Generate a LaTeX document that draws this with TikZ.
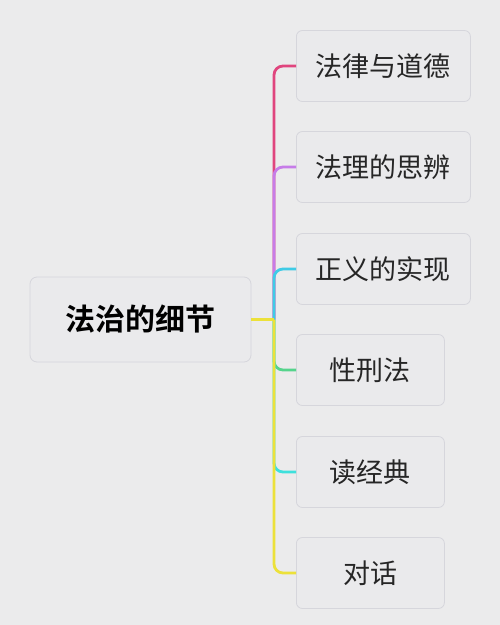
\documentclass[tikz,border=0pt]{standalone}
\usepackage{fontspec}
\newfontfamily\cjk{Noto Sans CJK SC}
\newfontfamily\cjkb{Noto Sans CJK SC Bold}
\begin{document}
\begin{tikzpicture}[x=1pt,y=-1pt,
  box/.style={draw=boxline,fill=boxfill,line width=0.8pt,rounded corners=6pt,
    minimum height=71pt,anchor=west,inner sep=0pt,font=\cjk\fontsize{27}{32}\selectfont,text=black!85},
  wide/.style={box,minimum width=174pt},
  narrow/.style={box,minimum width=148pt},
  branch/.style={line width=2.8pt,rounded corners=9pt}]
\definecolor{bg}{HTML}{EBEBEC}
\definecolor{boxline}{HTML}{D6D6DC}
\definecolor{boxfill}{HTML}{EAEAEC}
\definecolor{cpink}{HTML}{E0457E}
\definecolor{cviolet}{HTML}{C67CE8}
\definecolor{ccyan}{HTML}{3FCBE6}
\definecolor{cgreen}{HTML}{55D48C}
\definecolor{cteal}{HTML}{3EE0DC}
\definecolor{cyellow}{HTML}{ECE13A}
\fill[bg] (0,0) rectangle (500,625);
\useasboundingbox (0,0) rectangle (500,625);
\node[draw=boxline,fill=boxfill,line width=0.8pt,rounded corners=7pt,minimum width=221pt,minimum height=85pt,inner sep=0pt,font=\cjkb\fontsize{30}{36}\selectfont] (root) at (140.5,319.5) {法治的细节};
\node[wide] (c1) at (296,66) {法律与道德};
\node[wide] (c2) at (296,167) {法理的思辨};
\node[wide] (c3) at (296,269) {正义的实现};
\node[narrow] (c4) at (296,370) {性刑法};
\node[narrow] (c5) at (296,472) {读经典};
\node[narrow] (c6) at (296,573) {对话};
\coordinate (j) at (274,319.5);
\draw[branch,cpink] (j) |- (c1.west);
\draw[branch,cviolet] (j) |- (c2.west);
\draw[branch,ccyan] (j) |- (c3.west);
\draw[branch,cgreen] (j) |- (c4.west);
\draw[branch,cteal] (j) |- (c5.west);
\draw[branch,cyellow] (j) |- (c6.west);
\draw[line width=2.8pt,cyellow] (root.east) -- (j);
\end{tikzpicture}
\end{document}
